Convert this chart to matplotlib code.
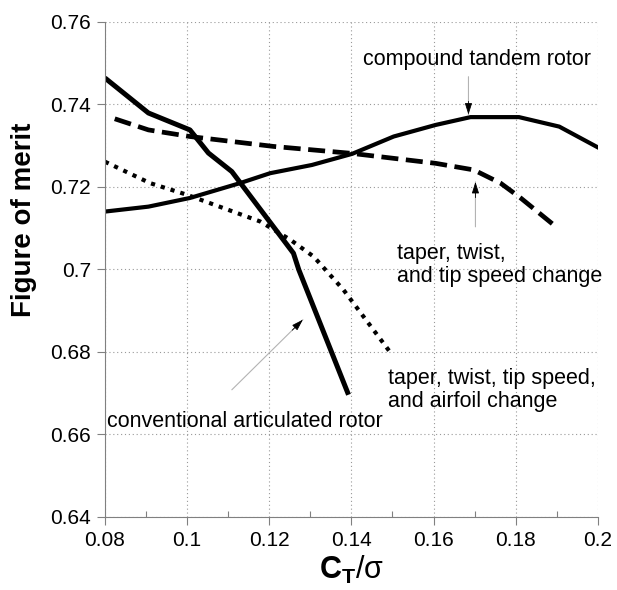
import numpy as np
import matplotlib
matplotlib.use("Agg")
import matplotlib.pyplot as plt
from matplotlib.ticker import MultipleLocator

plt.rcParams['font.family'] = ['Liberation Sans', 'DejaVu Sans']
plt.rcParams['mathtext.fontset'] = 'custom'
plt.rcParams['mathtext.rm'] = 'Liberation Sans'
plt.rcParams['mathtext.it'] = 'Liberation Sans'
plt.rcParams['mathtext.bf'] = 'Liberation Sans:bold'

# conventional articulated rotor
conv_x = [0.080, 0.0906, 0.1007, 0.1052, 0.1109, 0.1259, 0.1272, 0.1393]
conv_y = [0.7464, 0.7379, 0.7338, 0.7282, 0.7237, 0.7039, 0.6999, 0.6696]

# compound tandem rotor
tand_x = [0.080, 0.0906, 0.1007, 0.1129, 0.1202, 0.1304, 0.1402, 0.1503, 0.1605, 0.169, 0.1808, 0.1906, 0.2003]
tand_y = [0.7140, 0.7152, 0.7173, 0.7209, 0.7233, 0.7253, 0.7280, 0.7322, 0.7350, 0.7369, 0.7369, 0.7346, 0.7294]

# taper, twist, and tip speed change
tts_x = [0.0824, 0.0906, 0.1007, 0.121, 0.1402, 0.1605, 0.1698, 0.1763, 0.1812, 0.1902]
tts_y = [0.7365, 0.7338, 0.7322, 0.7298, 0.7281, 0.7257, 0.7241, 0.7209, 0.7173, 0.7100]

# taper, twist, tip speed, and airfoil change
ttsa_x = [0.080, 0.091, 0.0999, 0.1178, 0.1251, 0.1308, 0.1381, 0.1499]
ttsa_y = [0.7261, 0.7209, 0.7181, 0.7116, 0.7072, 0.7031, 0.6950, 0.6793]

xticks = [0.08, 0.1, 0.12, 0.14, 0.16, 0.18, 0.2]
yticks = [0.64, 0.66, 0.68, 0.7, 0.72, 0.74, 0.76]

fig = plt.figure(figsize=(6.17, 5.9), dpi=100)
ax = fig.add_axes([0.170, 0.124, 0.799, 0.839])

ax.plot(conv_x, conv_y, color='k', lw=3.6, solid_capstyle='butt')
ax.plot(tand_x, tand_y, color='k', lw=3.0, solid_capstyle='butt')
ax.plot(tts_x, tts_y, color='k', lw=3.4, linestyle=(0, (3.6, 1.6)))
ax.plot(ttsa_x, ttsa_y, color='k', lw=3.0, linestyle=(0, (1, 1.45)))

ax.set_xlim(0.08, 0.2)
ax.set_ylim(0.64, 0.76)
ax.set_xticks(xticks)
ax.set_xticklabels(['%g' % v for v in xticks])
ax.set_yticks(yticks)
ax.set_yticklabels(['%g' % v for v in yticks])
ax.xaxis.set_minor_locator(MultipleLocator(0.01))
ax.tick_params(axis='both', which='major', labelsize=15, length=6, pad=4, color='0.5', width=0.8)
ax.tick_params(axis='x', which='minor', direction='in', length=4, color='0.5', width=0.8)

ax.grid(True, which='major', linestyle=(0, (1, 2.5)), color='0.6', lw=0.8)
for s in ['top', 'right']:
    ax.spines[s].set_visible(False)
for s in ['left', 'bottom']:
    ax.spines[s].set_color('0.5')
    ax.spines[s].set_linewidth(0.8)

ax.set_ylabel('Figure of merit', fontsize=20, fontweight='bold')
ax.yaxis.set_label_coords(-0.138, 0.6)
ax.set_xlabel(r'$\mathbf{C_T}$/$\sigma$', fontsize=22, labelpad=3)


def arrow(tail, tip, frac=0.25):
    ax.annotate('', xy=tip, xytext=tail,
                arrowprops=dict(arrowstyle='-', color='0.7', lw=0.8, shrinkA=0, shrinkB=0))
    near = (tip[0] - (tip[0] - tail[0]) * frac, tip[1] - (tip[1] - tail[1]) * frac)
    ax.annotate('', xy=tip, xytext=near,
                arrowprops=dict(arrowstyle='-|>,head_length=0.7,head_width=0.22', color='k',
                                lw=0.6, shrinkA=0, shrinkB=0))


ax.text(0.1705, 0.7508, 'compound tandem rotor', fontsize=15.5, ha='center', va='center')
arrow((0.1685, 0.7467), (0.1685, 0.7375), frac=0.35)

ax.text(0.1512, 0.7010, 'taper, twist,\nand tip speed change', fontsize=15.5,
        ha='left', va='center', linespacing=1.15)
arrow((0.1702, 0.7103), (0.1702, 0.7212), frac=0.35)

ax.text(0.1489, 0.6708, 'taper, twist, tip speed,\nand airfoil change', fontsize=15.5,
        ha='left', va='center', linespacing=1.15)

ax.text(0.0805, 0.6631, 'conventional articulated rotor', fontsize=15.5, ha='left', va='center')
arrow((0.1109, 0.6708), (0.1282, 0.6878), frac=0.15)

fig.savefig('out.png', dpi=100)
